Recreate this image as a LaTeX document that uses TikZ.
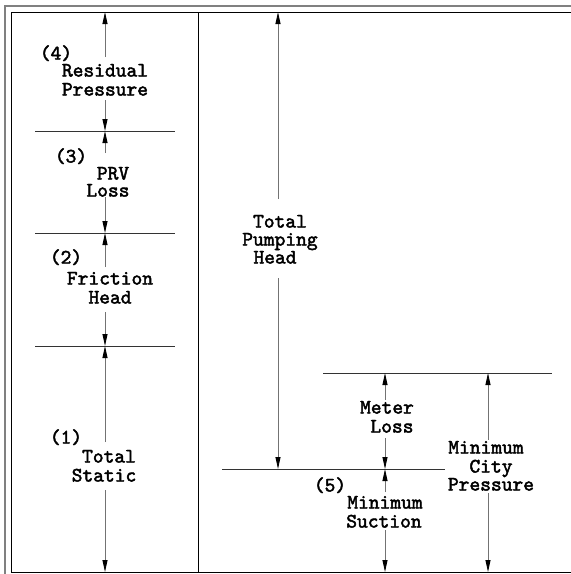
\documentclass[tikz,border=0pt]{standalone}
\usepackage{fontspec}
\newfontfamily\cadfont[FakeBold=2.2]{lmmono10-regular.otf}
\usetikzlibrary{arrows.meta}
\begin{document}
\begin{tikzpicture}[x=1pt,y=-1pt,
  dim/.style={draw=black!55, line width=0.9pt,
    -{Triangle[length=12pt,width=5pt,color=black]}},
  level/.style={draw=black!80, line width=0.9pt},
  lbl/.style={font=\cadfont\fontsize{20.5}{20.5}\selectfont,
    inner sep=0pt, text height=11pt, text depth=0pt},
]
\useasboundingbox (0,0) rectangle (571,574);
\clip (0,0) rectangle (571,574);

% sheet border (double frame) and column divider
\draw[black!50, line width=1.6pt] (5,600) -- (5,6) -- (600,6);
\draw[black, line width=1pt] (11,12) rectangle (600,572);
\draw[black, line width=1pt] (198,12) -- (198,572);

% ---------- left column: static + losses ----------
\coordinate (topL) at (105,12);
\coordinate (botL) at (105,572);
\coordinate (l3) at (105,131);
\coordinate (l2) at (105,233);
\coordinate (l1) at (105,346);
\draw[level] (35,131) -- (175,131);
\draw[level] (35,233) -- (175,233);
\draw[level] (35,346) -- (175,346);

\node[lbl] (n4)   at (56,54)  {(4)};
\node[lbl] (res)  at (105,71) {Residual};
\node[lbl] (pres) at (105,90) {Pressure};
\coordinate (a4u) at (105,57);
\coordinate (a4d) at (105,100);
\draw[dim] (a4u) -- (topL);
\draw[dim] (a4d) -- (l3);

\node[lbl] (n3)   at (71,157)  {(3)};
\node[lbl] (prv)  at (113,174) {PRV};
\node[lbl] (loss) at (108,191) {Loss};
\coordinate (a3u) at (105,153);
\coordinate (a3d) at (105,197);
\draw[dim] (a3u) -- (l3);
\draw[dim] (a3d) -- (l2);

\node[lbl] (n2)   at (66,258)  {(2)};
\node[lbl] (fri)  at (110,279) {Friction};
\node[lbl] (head) at (110,298) {Head};
\coordinate (a2u) at (105,267);
\coordinate (a2d) at (105,312);
\draw[dim] (a2u) -- (l2);
\draw[dim] (a2d) -- (l1);

\node[lbl] (n1)   at (66,438)  {(1)};
\node[lbl] (tot)  at (109,457) {Total};
\node[lbl] (stat) at (104,476) {Static};
\coordinate (a1u) at (105,442);
\coordinate (a1d) at (105,490);
\draw[dim] (a1u) -- (l1);
\draw[dim] (a1d) -- (botL);

% ---------- right column: pump and city supply ----------
\draw[level] (222,469) -- (445,469);
\draw[level] (323,373) -- (552,373);

\coordinate (topP) at (278,12);
\coordinate (pumpB) at (278,469);
\node[lbl] (ptot)  at (280,222) {Total};
\node[lbl] (ppump) at (280,240) {Pumping};
\node[lbl] (phead) at (275,258) {Head};
\coordinate (apu) at (278,199);
\coordinate (apd) at (278,278);
\draw[dim] (apu) -- (topP);
\draw[dim] (apd) -- (pumpB);

\coordinate (mTop) at (385,373);
\coordinate (mMid) at (385,469);
\coordinate (mBot) at (385,572);
\node[lbl] (meter) at (387,408) {Meter};
\node[lbl] (mloss) at (392,427) {Loss};
\coordinate (amu) at (385,400);
\coordinate (amd) at (385,438);
\draw[dim] (amu) -- (mTop);
\draw[dim] (amd) -- (mMid);

\node[lbl] (n5)   at (330,486) {(5)};
\node[lbl] (smin) at (385,503) {Minimum};
\node[lbl] (suct) at (384,522) {Suction};
\coordinate (asu) at (385,492);
\coordinate (asd) at (385,530);
\draw[dim] (asu) -- (mMid);
\draw[dim] (asd) -- (mBot);

\coordinate (cTop) at (488,373);
\coordinate (cBot) at (488,572);
\node[lbl] (cmin)  at (486,448) {Minimum};
\node[lbl] (city)  at (491,467) {City};
\node[lbl] (cpres) at (491,485) {Pressure};
\coordinate (acu) at (488,440);
\coordinate (acd) at (488,493);
\draw[dim] (acu) -- (cTop);
\draw[dim] (acd) -- (cBot);
\end{tikzpicture}
\end{document}
